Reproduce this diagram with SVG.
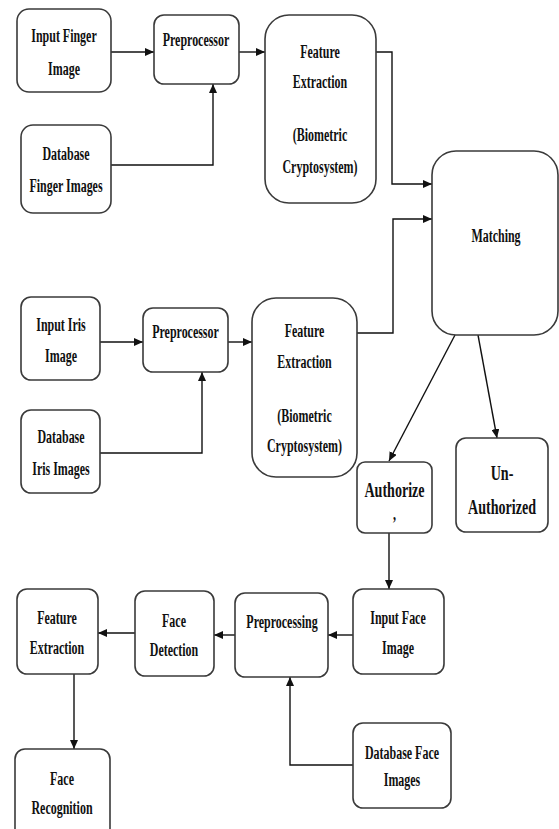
<svg xmlns="http://www.w3.org/2000/svg" width="559" height="829" viewBox="0 0 559 829">
<style>
.b{fill:#fff;stroke:#3a3a3a;stroke-width:1.6}
.t{font-family:"Liberation Serif","Times New Roman",serif;font-weight:bold;font-size:19px;fill:#111;text-anchor:middle}
.L{font-size:22px}
.c{fill:none;stroke:#111;stroke-width:1.4}
</style>
<defs>
<marker id="ah" markerUnits="userSpaceOnUse" markerWidth="9" markerHeight="8" refX="9" refY="4" orient="auto">
<path d="M0,0 L9,4 L0,8 z" fill="#111"/>
</marker>
</defs>
<rect width="559" height="829" fill="#fff"/>
<g id="connectors">
<path class="c" marker-end="url(#ah)" d="M111,52 H154"/>
<path class="c" marker-end="url(#ah)" d="M239,52 H265"/>
<path class="c" marker-end="url(#ah)" d="M111,165 H213 V84"/>
<path class="c" marker-end="url(#ah)" d="M376,52 H392 V184 H432"/>
<path class="c" marker-end="url(#ah)" d="M357,333 H393 V219 H432"/>
<path class="c" marker-end="url(#ah)" d="M100,342 H143"/>
<path class="c" marker-end="url(#ah)" d="M228,342 H252"/>
<path class="c" marker-end="url(#ah)" d="M100,453 H202 V372"/>
<path class="c" marker-end="url(#ah)" d="M455,335 L389,461"/>
<path class="c" marker-end="url(#ah)" d="M478,335 L497,438"/>
<path class="c" marker-end="url(#ah)" d="M389,532 V589"/>
<path class="c" marker-end="url(#ah)" d="M353,635 H328"/>
<path class="c" marker-end="url(#ah)" d="M353,765 H290 V677"/>
<path class="c" marker-end="url(#ah)" d="M235,635 H214"/>
<path class="c" marker-end="url(#ah)" d="M135,633 H98"/>
<path class="c" marker-end="url(#ah)" d="M74,674 V749"/>
</g>
<g id="input-finger">
<rect class="b" x="17" y="9" width="94" height="83" rx="12"/>
<text class="t" transform="translate(64,0) scale(0.63,1)" y="42">Input Finger</text>
<text class="t" transform="translate(64,0) scale(0.63,1)" y="75">Image</text>
</g>
<g id="preproc-finger">
<rect class="b" x="154" y="15" width="85" height="69" rx="10"/>
<text class="t" transform="translate(196,0) scale(0.63,1)" y="46">Preprocessor</text>
</g>
<g id="db-finger">
<rect class="b" x="21" y="125" width="90" height="88" rx="12"/>
<text class="t" transform="translate(66,0) scale(0.63,1)" y="160">Database</text>
<text class="t" transform="translate(66,0) scale(0.63,1)" y="192">Finger Images</text>
</g>
<g id="fe-finger">
<rect class="b" x="265" y="15" width="111" height="188" rx="24"/>
<text class="t" transform="translate(320,0) scale(0.63,1)" y="58">Feature</text>
<text class="t" transform="translate(320,0) scale(0.63,1)" y="88">Extraction</text>
<text class="t" transform="translate(320,0) scale(0.63,1)" y="141">(Biometric</text>
<text class="t" transform="translate(320,0) scale(0.63,1)" y="173">Cryptosystem)</text>
</g>
<g id="matching">
<rect class="b" x="432" y="151" width="126" height="184" rx="24"/>
<text class="t" transform="translate(496,0) scale(0.63,1)" y="242">Matching</text>
</g>
<g id="input-iris">
<rect class="b" x="21" y="297" width="79" height="83" rx="10"/>
<text class="t" transform="translate(61,0) scale(0.63,1)" y="331">Input Iris</text>
<text class="t" transform="translate(61,0) scale(0.63,1)" y="362">Image</text>
</g>
<g id="preproc-iris">
<rect class="b" x="143" y="308" width="85" height="64" rx="10"/>
<text class="t" transform="translate(185.5,0) scale(0.63,1)" y="338">Preprocessor</text>
</g>
<g id="db-iris">
<rect class="b" x="21" y="410" width="79" height="83" rx="10"/>
<text class="t" transform="translate(61,0) scale(0.63,1)" y="443">Database</text>
<text class="t" transform="translate(61,0) scale(0.63,1)" y="475">Iris Images</text>
</g>
<g id="fe-iris">
<rect class="b" x="252" y="298" width="105" height="179" rx="24"/>
<text class="t" transform="translate(304.5,0) scale(0.63,1)" y="337">Feature</text>
<text class="t" transform="translate(304.5,0) scale(0.63,1)" y="368">Extraction</text>
<text class="t" transform="translate(304.5,0) scale(0.63,1)" y="422">(Biometric</text>
<text class="t" transform="translate(304.5,0) scale(0.63,1)" y="452">Cryptosystem)</text>
</g>
<g id="authorize">
<rect class="b" x="357" y="462" width="75" height="71" rx="8"/>
<text class="t L" transform="translate(394.5,0) scale(0.64,1)" y="497">Authorize</text>
<text class="t" transform="translate(394.5,0) scale(0.64,1)" y="520">,</text>
</g>
<g id="unauthorized">
<rect class="b" x="456" y="438" width="92" height="94" rx="10"/>
<text class="t L" transform="translate(502,0) scale(0.64,1)" y="480">Un-</text>
<text class="t L" transform="translate(502,0) scale(0.64,1)" y="514">Authorized</text>
</g>
<g id="input-face">
<rect class="b" x="353" y="589" width="91" height="85" rx="10"/>
<text class="t" transform="translate(398,0) scale(0.63,1)" y="624">Input Face</text>
<text class="t" transform="translate(398,0) scale(0.63,1)" y="654">Image</text>
</g>
<g id="preprocessing">
<rect class="b" x="235" y="593" width="93" height="84" rx="10"/>
<text class="t" transform="translate(282,0) scale(0.63,1)" y="628">Preprocessing</text>
</g>
<g id="db-face">
<rect class="b" x="353" y="723" width="98" height="85" rx="10"/>
<text class="t" transform="translate(402,0) scale(0.63,1)" y="759">Database Face</text>
<text class="t" transform="translate(402,0) scale(0.63,1)" y="786">Images</text>
</g>
<g id="face-detection">
<rect class="b" x="135" y="591" width="79" height="85" rx="10"/>
<text class="t" transform="translate(174,0) scale(0.63,1)" y="627">Face</text>
<text class="t" transform="translate(174,0) scale(0.63,1)" y="656">Detection</text>
</g>
<g id="fe-face">
<rect class="b" x="17" y="589" width="81" height="85" rx="10"/>
<text class="t" transform="translate(57,0) scale(0.63,1)" y="624">Feature</text>
<text class="t" transform="translate(57,0) scale(0.63,1)" y="654">Extraction</text>
</g>
<g id="face-recognition">
<rect class="b" x="15" y="749" width="95" height="92" rx="10"/>
<text class="t" transform="translate(62,0) scale(0.63,1)" y="785">Face</text>
<text class="t" transform="translate(62,0) scale(0.63,1)" y="814">Recognition</text>
</g>
</svg>
